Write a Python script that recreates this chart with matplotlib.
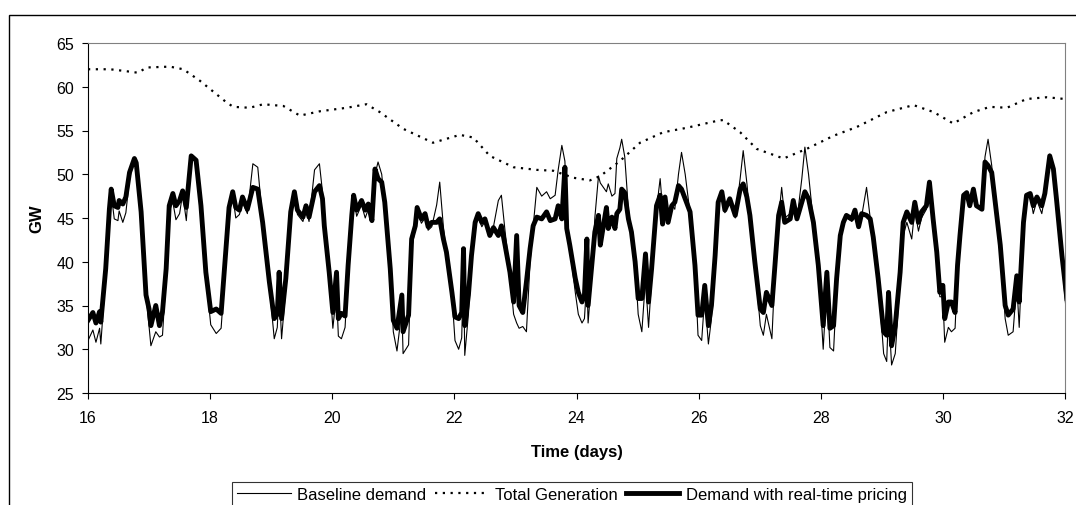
import matplotlib
matplotlib.use('Agg')
import matplotlib.pyplot as plt
from matplotlib.patches import Rectangle

plt.rcParams['font.family'] = ['Liberation Sans', 'DejaVu Sans']

# tiempo (dias) de los puntos leidos para las dos curvas de demanda
t_dem = [16.00,16.08,16.13,16.19,16.21,16.29,16.35,16.38,16.43,16.49,16.51,16.57,16.62,16.68,16.76,16.79,16.87,16.95,
         17.00,17.03,17.11,17.17,17.22,17.28,17.33,17.39,17.44,17.50,17.55,17.61,17.69,17.77,17.85,17.93,
         18.01,18.10,18.18,18.26,18.31,18.37,18.42,18.48,18.53,18.61,18.70,18.78,18.86,18.97,
         19.05,19.10,19.13,19.17,19.24,19.32,19.38,19.43,19.52,19.57,19.62,19.71,19.79,19.84,19.87,19.95,
         20.01,20.07,20.10,20.15,20.21,20.26,20.32,20.35,20.40,20.48,20.54,20.59,20.65,20.70,20.75,20.81,20.86,20.95,
         21.00,21.06,21.14,21.16,21.25,21.30,21.36,21.39,21.46,21.52,21.57,21.63,21.71,21.76,21.82,21.87,21.96,
         22.01,22.07,22.12,22.15,22.17,22.23,22.28,22.34,22.39,22.45,22.50,22.58,22.64,22.72,22.77,22.83,22.91,22.97,
         23.02,23.06,23.12,23.18,23.24,23.29,23.35,23.43,23.51,23.57,23.65,23.70,23.76,23.81,23.84,23.89,
         23.98,24.03,24.09,24.13,24.17,24.19,24.25,24.30,24.36,24.39,24.44,24.49,24.52,24.58,24.63,24.66,24.71,24.74,24.79,24.85,24.90,24.96,
         25.01,25.07,25.13,25.18,25.23,25.31,25.37,25.41,25.45,25.50,25.56,25.61,25.67,25.72,25.78,25.86,25.94,
         25.99,26.05,26.10,26.16,26.21,26.27,26.32,26.38,26.43,26.51,26.60,26.68,26.73,26.79,26.84,26.92,
         27.01,27.06,27.11,27.20,27.25,27.31,27.36,27.41,27.50,27.55,27.61,27.69,27.74,27.80,27.88,27.96,
         28.04,28.10,28.15,28.21,28.26,28.32,28.37,28.42,28.51,28.56,28.62,28.67,28.75,28.81,28.86,28.94,
         29.03,29.08,29.11,29.16,29.22,29.30,29.35,29.41,29.49,29.54,29.60,29.65,29.73,29.78,29.84,29.90,29.95,
         30.00,30.03,30.09,30.14,30.20,30.24,30.28,30.34,30.39,30.44,30.50,30.55,30.64,30.69,30.74,30.80,30.85,30.94,
         31.02,31.07,31.15,31.21,31.25,31.32,31.37,31.43,31.48,31.54,31.62,31.67,31.75,31.81,31.86,31.95,32.03]

# demanda base (GW)
base = [31.0,32.2,30.8,32.4,30.6,38.5,45.5,47.8,44.9,44.7,45.8,44.5,45.6,49.5,51.8,51.0,45.5,36.0,
        32.6,30.4,32.0,31.4,31.6,38.5,45.8,46.8,44.8,45.5,47.8,44.7,52.2,51.4,46.2,38.5,
        32.8,31.8,32.4,40.5,45.5,47.6,45.0,45.4,46.8,45.5,51.2,50.8,44.8,37.2,
        31.2,32.5,37.5,31.2,37.0,45.0,47.6,45.4,44.6,46.0,44.6,50.5,51.2,48.0,44.0,38.5,
        32.4,36.5,31.5,31.2,32.5,39.0,45.0,47.4,45.2,46.5,45.0,46.0,44.6,50.0,51.4,50.0,46.6,39.0,
        32.0,29.8,34.5,29.5,30.5,41.5,43.8,45.8,44.4,45.0,43.6,44.0,46.5,49.1,44.0,41.0,36.2,
        31.0,30.0,31.3,39.5,29.3,34.0,40.0,44.0,45.0,44.0,44.6,43.5,44.0,47.0,47.6,43.5,38.5,34.0,
        33.0,32.4,32.6,32.0,40.0,44.0,48.5,47.5,48.0,47.2,47.6,50.5,53.3,51.5,46.0,41.5,
        36.5,34.0,33.0,33.5,38.0,33.0,38.5,45.0,49.8,49.0,48.5,48.0,48.9,47.5,47.8,51.8,53.0,54.0,52.0,46.0,43.5,40.0,
        34.0,32.0,38.0,32.5,38.0,46.0,49.5,46.0,47.0,45.0,46.5,46.0,50.0,52.5,50.0,45.5,39.5,
        31.6,31.0,36.0,30.6,33.5,40.0,46.5,47.8,45.6,47.0,45.0,49.5,52.7,49.0,45.3,39.8,
        32.7,31.6,34.0,31.2,39.0,45.0,48.5,45.0,45.5,46.5,44.8,49.5,53.1,50.0,44.5,39.5,
        30.0,37.5,30.2,29.8,37.0,42.5,44.2,45.0,44.6,45.5,43.8,45.2,48.5,45.0,42.6,38.0,
        29.5,28.6,34.5,28.2,29.5,38.0,43.0,44.5,42.6,46.0,43.5,45.0,46.0,49.1,44.5,41.0,36.0,
        36.0,30.8,32.5,32.0,32.4,39.0,43.0,47.4,47.6,46.2,48.0,46.2,46.5,52.0,54.0,51.0,47.0,41.5,
        33.5,31.6,32.0,37.5,32.5,44.0,47.3,47.6,45.5,47.0,45.5,47.5,52.3,51.0,47.0,40.0,33.5]

# demanda con precios en tiempo real (GW)
rtp = [33.3,34.2,33.0,34.3,33.1,39.2,46.0,48.3,46.4,46.2,47.0,46.6,47.4,50.2,51.8,51.3,45.7,36.2,
       34.6,32.7,35.0,32.7,34.3,39.2,46.4,47.8,46.4,47.0,48.1,46.2,52.1,51.6,46.4,38.8,
       34.3,34.6,34.1,41.5,46.2,48.0,46.2,45.9,47.4,46.0,48.5,48.3,44.5,37.7,
       33.5,34.0,38.8,33.5,38.1,45.7,48.0,45.9,45.1,46.4,45.1,48.0,48.7,47.2,44.1,38.8,
       34.2,38.8,33.5,34.1,33.8,39.6,45.3,47.6,45.9,47.0,45.9,46.6,44.7,50.6,49.5,49.1,46.8,39.2,
       33.3,32.4,36.2,32.0,33.9,42.6,44.1,46.2,44.9,45.5,44.0,44.5,44.5,44.9,42.6,41.1,36.5,
       33.7,33.5,34.2,41.5,32.7,36.2,40.7,44.5,45.5,44.5,44.9,43.0,43.9,43.0,44.1,41.9,38.8,35.4,
       43.0,35.0,34.2,37.7,41.5,44.1,45.1,44.9,45.7,44.7,44.9,46.4,44.9,50.8,43.8,41.9,
       38.1,36.5,35.4,36.2,42.6,35.0,39.6,43.4,45.3,41.9,44.1,46.2,43.8,45.1,43.8,45.5,46.0,48.3,47.9,44.9,43.4,40.0,
       35.8,35.8,40.9,35.4,39.2,46.4,47.6,44.3,47.4,44.5,46.4,46.8,48.7,48.3,47.2,45.7,39.6,
       33.9,33.9,37.3,32.7,35.0,40.7,46.8,48.0,45.9,47.2,45.3,48.3,48.9,47.4,45.3,40.0,
       34.6,34.2,36.5,35.0,39.6,45.3,46.8,44.5,44.9,47.0,44.9,46.8,48.0,47.2,44.5,39.6,
       32.7,38.8,32.4,32.7,38.1,43.0,44.5,45.3,44.9,45.9,44.0,45.5,45.3,44.9,42.8,38.1,
       32.0,31.6,36.5,30.4,32.7,38.8,44.5,45.7,44.5,46.8,44.5,45.7,46.4,49.1,44.9,41.1,36.5,
       37.3,33.5,35.4,35.4,34.2,39.6,43.0,47.6,47.9,46.4,48.3,46.4,46.0,51.4,51.0,50.2,47.2,41.9,
       35.0,33.9,34.6,38.4,35.4,44.5,47.6,47.8,46.4,47.4,46.4,47.8,52.1,50.6,47.2,40.7,35.8]

# generacion total (GW)
t_gen = [16.0,16.36,16.6,16.82,16.96,17.34,17.56,17.83,18.27,18.38,18.65,18.87,19.2,19.47,19.8,20.24,20.56,20.78,
         21.16,21.65,22.09,22.31,22.58,22.97,23.35,23.62,23.95,24.22,24.39,24.71,25.04,25.42,25.8,26.3,26.4,
         26.68,26.95,27.39,27.77,28.21,28.59,29.08,29.52,29.85,30.17,30.5,30.77,31.05,31.37,31.7,32.0]
gen = [62.0,62.0,61.8,61.6,62.2,62.3,62.0,60.7,58.2,57.7,57.6,58.0,57.8,56.7,57.2,57.6,58.0,57.1,
       55.2,53.6,54.5,54.2,52.1,50.8,50.5,50.4,49.6,49.3,49.8,51.5,53.6,54.8,55.3,56.1,56.2,
       54.8,52.9,51.8,52.9,54.4,55.4,57.1,57.9,57.1,55.8,57.1,57.7,57.6,58.6,58.8,58.6]

fig = plt.figure(figsize=(10.76, 5.06), dpi=100)
ax = fig.add_axes([88/1076, 1-394/506, 977/1076, 350/506])

ax.plot(t_dem, base, color='black', lw=0.8, label='Baseline demand')
ax.plot(t_gen, gen, color='black', lw=1.6, ls=(0, (1, 2.5)), label='Total Generation')
ax.plot(t_dem, rtp, color='black', lw=3.5, label='Demand with real-time pricing')

ax.set_xlim(16, 32)
ax.set_ylim(25, 65)
ax.set_xticks(range(16, 33, 2))
ax.set_yticks(range(25, 66, 5))
ax.tick_params(direction='out', length=4, width=0.8, labelsize=11.5, colors='black')
ax.tick_params(axis='x', pad=8)
ax.tick_params(axis='y', pad=6)

ax.spines['top'].set_color('#808080')
ax.spines['right'].set_color('#808080')
ax.spines['left'].set_color('black')
ax.spines['bottom'].set_color('black')

ax.set_xlabel('Time (days)', fontsize=12, fontweight='bold')
ax.set_ylabel('GW', fontsize=12, fontweight='bold')
ax.xaxis.set_label_coords(0.5, -0.145)
ax.yaxis.set_label_coords(-0.045, 0.5)

# marco exterior del grafico
fig.patches.append(Rectangle((9/1076, -0.2), 1.2, 1.2 - 16/506, transform=fig.transFigure,
                             fill=False, edgecolor='black', lw=1.0))

leg = fig.legend(loc='upper center', bbox_to_anchor=(572/1076, 1-483/506), ncol=3,
                 frameon=True, fancybox=False, edgecolor='black', fontsize=12,
                 handlelength=3.2, handletextpad=0.4, columnspacing=0.5, borderaxespad=0,
                 borderpad=0.3)
leg.get_frame().set_linewidth(0.8)

plt.savefig('out.png', dpi=100)
